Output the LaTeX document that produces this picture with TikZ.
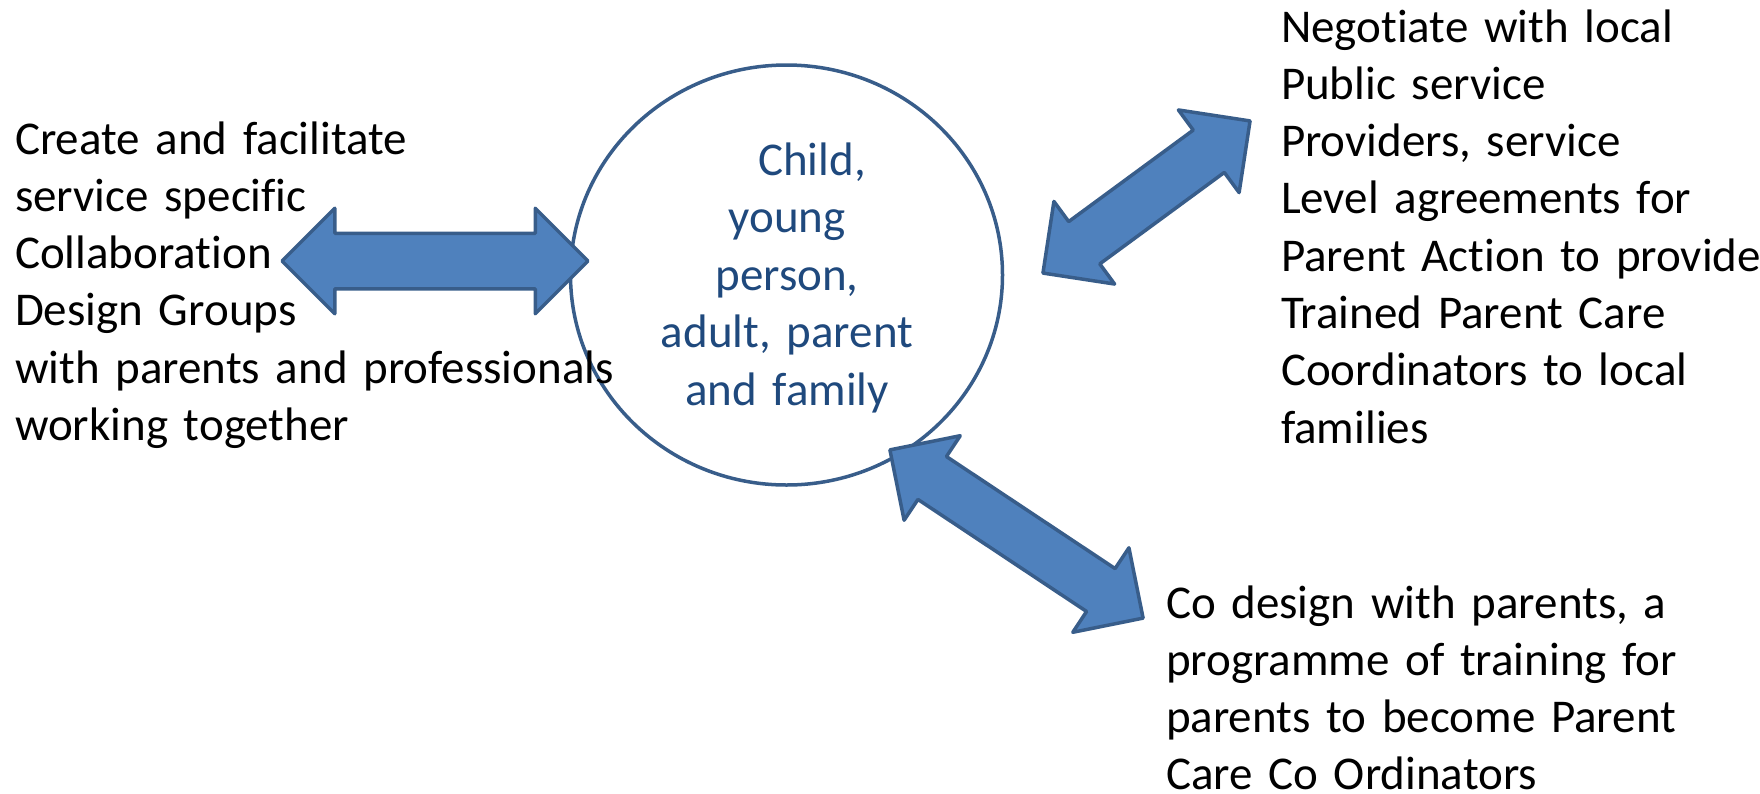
\documentclass[tikz,border=0pt]{standalone}
\usepackage{fontspec}
\setmainfont{Carlito}[Ligatures=NoCommon]
\usetikzlibrary{shapes.geometric, shapes.arrows}
\definecolor{arrowfill}{RGB}{79, 129, 189}
\definecolor{shapeline}{RGB}{56, 93, 138}
\definecolor{hubtext}{RGB}{31, 73, 125}
\hyphenpenalty=10000

\begin{document}
\begin{tikzpicture}[
  x=1pt, y=-1pt,
  every node/.style={inner sep=0pt, outer sep=0pt},
  txt/.style={font=\fontsize{47}{57.3}\selectfont, align=left, anchor=base west},
  dblarrow/.style={double arrow, draw=shapeline, fill=arrowfill, line width=3.5pt,
                   line join=round, double arrow head extend=25pt,
                   double arrow tip angle=90, minimum width=0pt, inner xsep=0pt},
]
\useasboundingbox (0,0) rectangle (1760,793);

% centre
\node[ellipse, draw=shapeline, line width=3.5pt, minimum width=432pt,
      minimum height=420pt] (family) at (786.5,275) {};
\node[font=\fontsize{47}{57.5}\selectfont, text=hubtext, text width=400pt,
      align=center, anchor=base] (familytext) at (787,175)
     {\hspace*{50pt}Child,\\young\\person,\\adult, parent\\and family};

% the three tasks
\node[txt, text width=620pt] (groups) at (15,154)
     {Create and facilitate\\service specific\\Collaboration\\Design Groups\\with parents and professionals\\working together};
\node[txt, text width=700pt] (providers) at (1281,42)
     {Negotiate with local\\Public service\\Providers, service\\Level agreements for\\Parent Action to provide\\Trained Parent Care\\Coordinators to local\\families};
\node[txt, text width=700pt] (training) at (1166,618)
     {Co design with parents, a\\programme of training for\\parents to become Parent\\Care Co Ordinators};

% block arrows
\node[dblarrow, inner ysep=26pt, minimum height=306pt] (toleft) at (435,261) {};
\node[dblarrow, inner ysep=24.5pt, minimum height=257pt, rotate=36.3] (toright) at (1146.5,197) {};
\node[dblarrow, inner ysep=24pt, minimum height=304pt, rotate=-33.6] (todown) at (1016.5,534) {};
\end{tikzpicture}
\end{document}
